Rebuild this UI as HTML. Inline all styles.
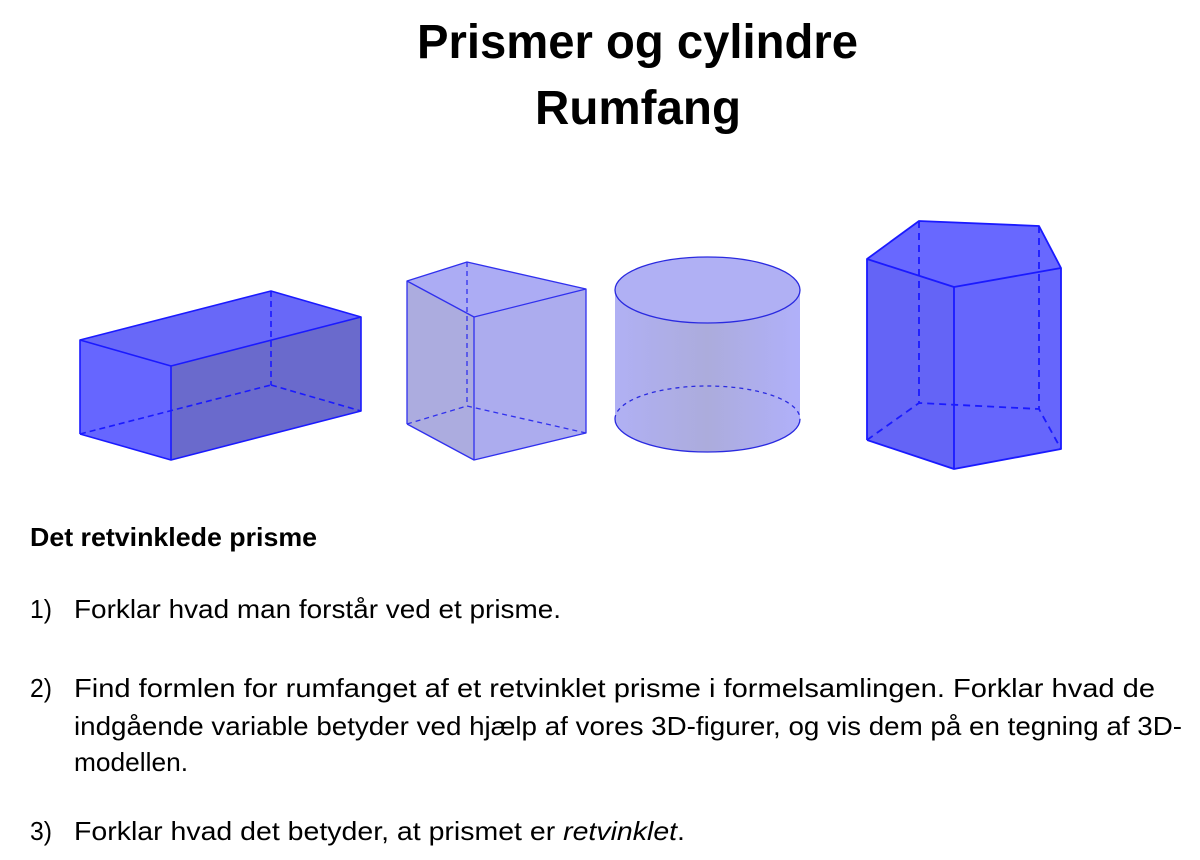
<!DOCTYPE html>
<html><head><meta charset="utf-8"><style>html,body{margin:0;padding:0;background:#fff}svg{display:block}</style></head>
<body>
<svg width="1200" height="860" viewBox="0 0 1200 860" xmlns="http://www.w3.org/2000/svg" font-family="Liberation Sans, sans-serif">
<g font-weight="bold" font-size="48" text-anchor="start">
<text x="417" y="58" textLength="441" lengthAdjust="spacingAndGlyphs">Prismer og cylindre</text>
<text x="535" y="124" textLength="206" lengthAdjust="spacingAndGlyphs">Rumfang</text>
</g>
<g stroke="#1a1aff" stroke-width="1.6" stroke-linejoin="round">
<polygon points="80,340 171,366 171,460 80,434" fill="#6666ff" stroke="none"/>
<polygon points="171,366 361,317 361,411 171,460" fill="#6a6acc" stroke="none"/>
<polygon points="80,340 271,291 361,317 171,366" fill="#6868f8" stroke="none"/>
<g fill="none" stroke-dasharray="6,4"><line x1="271" y1="291" x2="271" y2="385"/><line x1="80" y1="434" x2="271" y2="385"/><line x1="271" y1="385" x2="361" y2="411"/></g>
<polyline fill="none" points="80,434 80,340 271,291 361,317 361,411 171,460 80,434"/>
<polyline fill="none" points="80,340 171,366 361,317"/><line x1="171" y1="366" x2="171" y2="460"/>
</g>
<g stroke="#3030ee" stroke-width="1.3" stroke-linejoin="round">
<polygon points="407,281 474,317 474,460 407,424" fill="#acacdf" stroke="none"/>
<polygon points="474,317 586,289 586,433 474,460" fill="#acacee" stroke="none"/>
<polygon points="407,281 467,262 586,289 474,317" fill="#acacf4" stroke="none"/>
<g fill="none" stroke-dasharray="5,4"><line x1="467" y1="262" x2="467" y2="406"/><line x1="407" y1="424" x2="467" y2="406"/><line x1="467" y1="406" x2="586" y2="433"/></g>
<polyline fill="none" points="407,424 407,281 467,262 586,289 586,433 474,460 407,424"/>
<polyline fill="none" points="407,281 474,317 586,289"/><line x1="474" y1="317" x2="474" y2="460"/>
</g>
<defs><linearGradient id="cg" x1="0" x2="1"><stop offset="0" stop-color="#b0b0f4"/><stop offset="0.5" stop-color="#acacdc"/><stop offset="1" stop-color="#b0b0fa"/></linearGradient></defs>
<g stroke="#2a2ae0" stroke-width="1.3">
<path d="M615,290 L615,419 A92.5,33 0 0 0 800,419 L800,290 Z" fill="url(#cg)" stroke="none"/>
<path d="M615,419 A92.5,33 0 0 0 800,419" fill="none"/>
<path d="M615,419 A92.5,33 0 0 1 800,419" fill="none" stroke-dasharray="4,4"/>
<ellipse cx="707.5" cy="290" rx="92.5" ry="33" fill="#b0b0f4"/>
</g>
<g stroke="#1a1aff" stroke-width="1.8" stroke-linejoin="round">
<polygon points="867,259 954,287 954,469 867,440" fill="#6464f6" stroke="none"/>
<polygon points="954,287 1061,268 1061,449 954,469" fill="#6666fc" stroke="none"/>
<polygon points="867,259 919,221 1039,226 1061,268 954,287" fill="#6868ff" stroke="none"/>
<g fill="none" stroke-dasharray="7,5"><line x1="919" y1="221" x2="919" y2="403"/><line x1="1039" y1="226" x2="1039" y2="409"/><polyline points="867,440 919,403 1039,409 1061,449"/></g>
<polyline fill="none" points="867,440 867,259 919,221 1039,226 1061,268 1061,449 954,469 867,440"/>
<polyline fill="none" points="867,259 954,287 1061,268"/><line x1="954" y1="287" x2="954" y2="469"/>
</g>
<g font-size="26" fill="#000">
<text x="30" y="546" font-weight="bold" textLength="287" lengthAdjust="spacingAndGlyphs">Det retvinklede prisme</text>
<text x="30" y="618" textLength="22" lengthAdjust="spacingAndGlyphs">1)</text>
<text x="74" y="618" textLength="487" lengthAdjust="spacingAndGlyphs">Forklar hvad man forstår ved et prisme.</text>
<text x="30" y="697" textLength="22" lengthAdjust="spacingAndGlyphs">2)</text>
<text x="74" y="697" textLength="1081" lengthAdjust="spacingAndGlyphs">Find formlen for rumfanget af et retvinklet prisme i formelsamlingen. Forklar hvad de</text>
<text x="74" y="735" textLength="1108" lengthAdjust="spacingAndGlyphs">indgående variable betyder ved hjælp af vores 3D-figurer, og vis dem på en tegning af 3D-</text>
<text x="74" y="771" textLength="114" lengthAdjust="spacingAndGlyphs">modellen.</text>
<text x="30" y="840" textLength="22" lengthAdjust="spacingAndGlyphs">3)</text>
<text x="74" y="840" textLength="611" lengthAdjust="spacingAndGlyphs">Forklar hvad det betyder, at prismet er <tspan font-style="italic">retvinklet</tspan>.</text>
</g>
</svg>
</body></html>
